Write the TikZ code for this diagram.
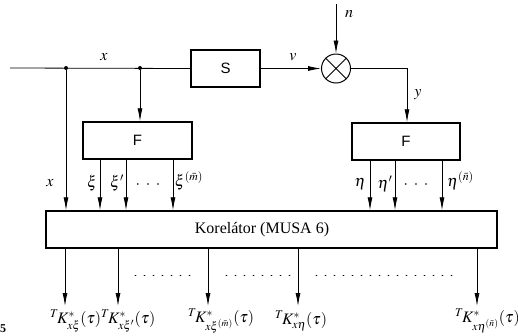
\documentclass[tikz,border=0pt]{standalone}
\usepackage{mathptmx}
\usepackage{fontspec}
\setmainfont{Liberation Serif}
\newfontfamily\sansf{Liberation Sans}
\usetikzlibrary{arrows.meta}
\begin{document}
\begin{tikzpicture}[x=1pt,y=-1pt,
  boxs/.style={draw,line width=1.4pt,inner sep=0pt,font=\sansf\fontsize{15}{17}\selectfont},
  ln/.style={line width=0.8pt},
  arr/.style={ln,-{Latex[length=13pt,width=5pt]}},
  lab/.style={inner sep=1pt,font=\fontsize{16}{18}\selectfont},
  klab/.style={inner sep=0pt,anchor=west,font=\fontsize{16}{18}\selectfont},
  dotpt/.style={circle,fill,inner sep=0pt,minimum size=4pt}]
\useasboundingbox (0,0) rectangle (518,335);
% blocks
\node[boxs,minimum width=69pt,minimum height=37pt] (S) at (225.5,68.5) {S};
\node[boxs,minimum width=109pt,minimum height=37pt] (F1) at (137.5,140.5) {F};
\node[boxs,minimum width=108pt,minimum height=37pt] (F2) at (406,141.5) {F};
\node[draw,line width=1.4pt,minimum width=451pt,minimum height=37pt,inner sep=0pt] (K) at (271.5,229.5) {};
\node[inner sep=1pt,font=\fontsize{16}{18}\selectfont] (Kt) at (262,230) {Korelátor (MUSA 6)};
\node[draw,circle,line width=1pt,minimum size=29pt,inner sep=0pt] (M) at (336,68.5) {};
\draw[line width=1pt] (M.45) -- (M.225) (M.135) -- (M.315);
% input
\coordinate (in) at (10,68);
\node[dotpt] (d1) at (66,68) {};
\node[dotpt] (d2) at (140,68) {};
\draw[ln] (in) -- (S.west);
\node[lab] (lx) at (104,57) {$x$};
\draw[arr] (d2) -- (d2 |- F1.north);
\draw[arr] (d1) -- (d1 |- K.north);
\node[lab] (lx2) at (50,183) {$x$};
% S to mixer
\draw[arr] (S.east) -- (M.west);
\node[lab] (lv) at (293,57) {$v$};
\coordinate (n0) at (336,4);
\draw[arr] (n0) -- (M.north);
\node[lab] (ln) at (349,14) {$n$};
\coordinate (c1) at (407,68.5);
\draw[arr] (M.east) -- (c1) -- (c1 |- F2.north);
\node[lab] (ly) at (418,95) {$y$};
% F1 outputs
\draw[arr] (100,0 |- F1.south) -- (100,0 |- K.north);
\draw[arr] (126,0 |- F1.south) -- (126,0 |- K.north);
\draw[arr] (173,0 |- F1.south) -- (173,0 |- K.north);
\node[lab] (lxi) at (92,183) {$\xi$};
\node[lab] (lxi1) at (117,183) {$\xi'$};
\node[lab] (ldot1) at (148,185) {$\cdot\;\cdot\;\cdot$};
\node[lab] (lxim) at (189,181) {$\xi^{(\bar m)}$};
% F2 outputs
\draw[arr] (370,0 |- F2.south) -- (370,0 |- K.north);
\draw[arr] (395,0 |- F2.south) -- (395,0 |- K.north);
\draw[arr] (442,0 |- F2.south) -- (442,0 |- K.north);
\node[lab] (leta) at (360,184) {$\eta$};
\node[lab] (leta1) at (385,184) {$\eta'$};
\node[lab] (ldot2) at (416,185) {$\cdot\;\cdot\;\cdot$};
\node[lab,anchor=west] (letan) at (446,181) {$\eta^{(\bar n)}$};
% outputs
\foreach \xx/\nm in {65/o1,118/o2,208/o3,298/o4,477/o5}{
  \coordinate (\nm) at (\xx,306);
  \draw[arr] (\xx,0 |- K.south) -- (\nm);
}
\draw[ln,dash pattern=on 1pt off 8pt,line cap=round] (135,275) -- (190,275);
\draw[ln,dash pattern=on 1pt off 8pt,line cap=round] (226,275) -- (290,275);
\draw[ln,dash pattern=on 1pt off 8pt,line cap=round] (316,275) -- (458,275);
\node[klab] (k1) at (50,321) {${}^{T}\!K^{*}_{x\xi}(\tau)$};
\node[klab] (k2) at (101,321) {${}^{T}\!K^{*}_{x\xi'}(\tau)$};
\node[klab] (k3) at (188,321) {${}^{T}\!K^{*}_{x\xi^{(\bar m)}}(\tau)$};
\node[klab] (k4) at (275,321) {${}^{T}\!K^{*}_{x\eta}(\tau)$};
\node[klab] (k5) at (455,321) {${}^{T}\!K^{*}_{x\eta^{(\bar n)}}(\tau)$};
\node[inner sep=0pt,anchor=west,font=\bfseries\fontsize{12}{14}\selectfont] (fig) at (0,329) {5};
\end{tikzpicture}
\end{document}
